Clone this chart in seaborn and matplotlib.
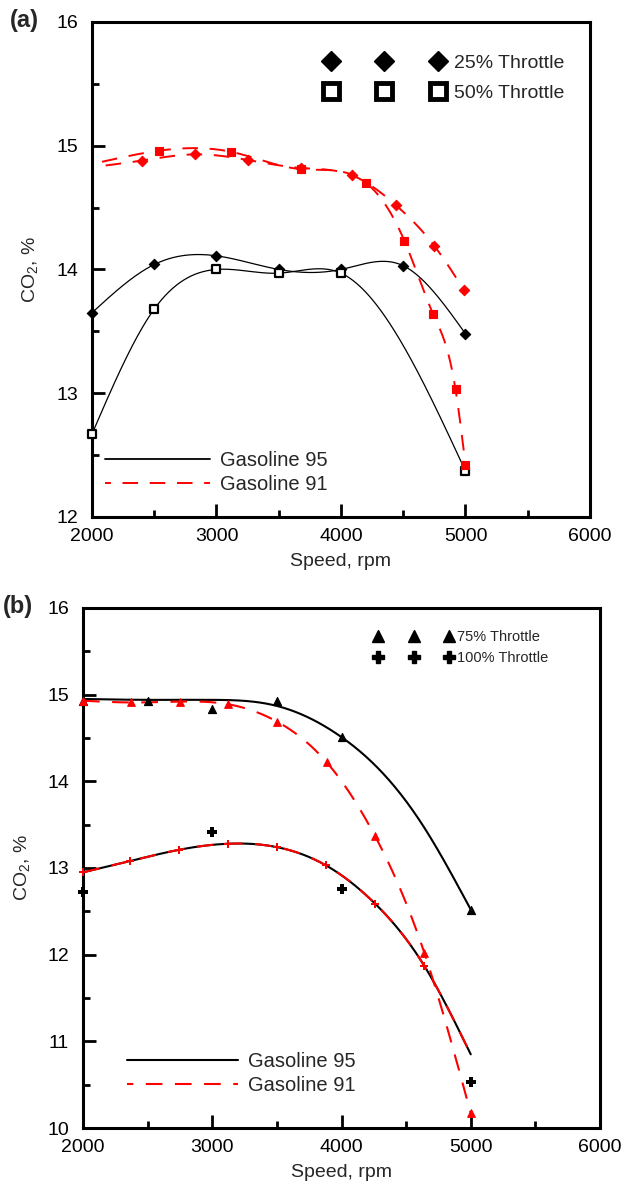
import numpy as np
import matplotlib
matplotlib.use("Agg")
import matplotlib.pyplot as plt
from matplotlib.lines import Line2D
import seaborn as sns

# ---------------- data ----------------
# (a) 25 % and 50 % throttle
speed_a25 = [2000, 2500, 3000, 3500, 4000, 4500, 5000]
g95_25 = [13.65, 14.04, 14.11, 14.00, 14.00, 14.03, 13.48]

speed_a50 = [2000, 2500, 3000, 3500, 4000, 5000]
g95_50 = [12.67, 13.68, 14.00, 13.97, 13.97, 12.37]

# first entry of each Gasoline 91 series is the start of the curve (no marker)
speed_g91_25 = [2110, 2400, 2830, 3250, 3680, 4090, 4440, 4750, 4990]
g91_25 = [14.84, 14.88, 14.93, 14.885, 14.82, 14.76, 14.52, 14.19, 13.83]

speed_g91_50 = [2080, 2540, 3120, 3680, 4200, 4510, 4740, 4920, 5000]
g91_50 = [14.87, 14.96, 14.95, 14.81, 14.70, 14.23, 13.64, 13.03, 12.42]

# (b) 75 % and 100 % throttle
speed_b = [2000, 2500, 3000, 3500, 4000, 5000]
g95_75 = [14.93, 14.93, 14.84, 14.93, 14.51, 12.52]

speed_b100 = [2000, 3000, 4000, 5000]
g95_100 = [12.72, 13.42, 12.76, 10.53]

# fitted Gasoline 95 curves
speed_fit75 = [2000, 2500, 3000, 3500, 4000, 4250, 4630, 5000]
g95_75_fit = [14.95, 14.94, 14.94, 14.87, 14.51, 14.20, 13.49, 12.52]

speed_fit100 = [2000, 2364, 2743, 3124, 3503, 3880, 4259, 4641, 5000]
g95_100_fit = [12.95, 13.08, 13.21, 13.28, 13.24, 13.03, 12.59, 11.87, 10.85]

speed_g91_75 = [2000, 2370, 2750, 3120, 3500, 3885, 4259, 4641, 5000]
g91_75 = [14.93, 14.91, 14.92, 14.89, 14.69, 14.22, 13.37, 12.02, 10.17]

# last entry is the end of the curve (no marker)
speed_g91_100 = [2000, 2364, 2743, 3124, 3503, 3880, 4259, 4641, 5000]
g91_100 = [12.95, 13.08, 13.21, 13.28, 13.24, 13.03, 12.59, 11.87, 10.85]


def smooth(xk, yk, num=400):
    """Natural cubic spline through the given points."""
    x = np.asarray(xk, float) / 1000.0
    y = np.asarray(yk, float)
    n = len(x)
    h = np.diff(x)
    A = np.zeros((n, n))
    b = np.zeros(n)
    A[0, 0] = A[-1, -1] = 1.0
    for i in range(1, n - 1):
        A[i, i - 1] = h[i - 1]
        A[i, i] = 2 * (h[i - 1] + h[i])
        A[i, i + 1] = h[i]
        b[i] = 6 * ((y[i + 1] - y[i]) / h[i] - (y[i] - y[i - 1]) / h[i - 1])
    M = np.linalg.solve(A, b)
    xs = np.linspace(x[0], x[-1], num)
    idx = np.clip(np.searchsorted(x, xs) - 1, 0, n - 2)
    x0, x1 = x[idx], x[idx + 1]
    hh = x1 - x0
    t0, t1 = x1 - xs, xs - x0
    ys = ((M[idx] * t0 ** 3 + M[idx + 1] * t1 ** 3) / (6 * hh)
          + (y[idx] / hh - M[idx] * hh / 6) * t0
          + (y[idx + 1] / hh - M[idx + 1] * hh / 6) * t1)
    return xs * 1000.0, ys


# ---------------- style ----------------
sns.set_theme(style="white")
plt.rcParams["font.family"] = ["Liberation Sans", "DejaVu Sans"]
plt.rcParams["mathtext.default"] = "regular"

RED = "#ff0000"
DASH = (0, (8, 6))

fig = plt.figure(figsize=(6.34, 11.87), dpi=100)
ax_a = fig.add_axes([0.1451, 0.5645, 0.7855, 0.4170])
ax_b = fig.add_axes([0.1309, 0.0497, 0.8155, 0.4381])


def style_axes(ax, ylo, yhi, ylabelpad):
    ax.set_xlim(2000, 6000)
    ax.set_ylim(ylo, yhi)
    ax.set_xticks(np.arange(2000, 6001, 1000))
    ax.set_xticks(np.arange(2500, 6000, 1000), minor=True)
    ax.set_yticks(np.arange(ylo, yhi + 1, 1))
    ax.set_yticks(np.arange(ylo + 0.5, yhi, 1), minor=True)
    ax.tick_params(which="both", direction="in", top=False, right=False,
                   bottom=True, left=True, width=2.0, labelsize=14,
                   colors="black")
    ax.tick_params(which="major", length=9.5)
    ax.tick_params(which="minor", length=5)
    ax.tick_params(axis="x", pad=8)
    ax.tick_params(axis="y", pad=10)
    for s in ax.spines.values():
        s.set_linewidth(2.2)
        s.set_color("black")
    ax.set_xlabel("Speed, rpm", fontsize=14, labelpad=6)
    ax.set_ylabel("CO$_2$, %", fontsize=14, labelpad=ylabelpad)


def curve(ax, xk, yk, color, lw, dashed=False):
    xs, ys = smooth(xk, yk)
    kw = dict(linestyle=DASH) if dashed else {}
    sns.lineplot(x=xs, y=ys, ax=ax, color=color, linewidth=lw, sort=False,
                 estimator=None, zorder=2, **kw)


def points(ax, xk, yk, marker, s, face, edge, lw=0.8):
    sns.scatterplot(x=xk, y=yk, ax=ax, marker=marker, s=s, color=face,
                    edgecolor=edge, linewidth=lw, zorder=4, clip_on=False)


# ---------------- (a) ----------------
style_axes(ax_a, 12, 16, 12)
curve(ax_a, speed_a25, g95_25, "black", 0.9)
curve(ax_a, speed_a50, g95_50, "black", 0.9)
curve(ax_a, speed_g91_25, g91_25, RED, 1.4, dashed=True)
curve(ax_a, speed_g91_50, g91_50, RED, 1.4, dashed=True)
points(ax_a, speed_a25, g95_25, "D", 28, "black", "black")
points(ax_a, speed_a50, g95_50, "s", 30, "white", "black", lw=1.6)
points(ax_a, speed_g91_25[1:], g91_25[1:], "D", 28, RED, RED)
points(ax_a, speed_g91_50[1:], g91_50[1:], "s", 40, RED, RED)

thr_a = [
    Line2D([], [], marker="D", color="black", linestyle="none", markersize=10.5),
    Line2D([], [], marker="s", markerfacecolor="white", markeredgecolor="black",
           markeredgewidth=3.5, linestyle="none", markersize=12),
]
leg1 = ax_a.legend(thr_a, ["25% Throttle", "50% Throttle"], numpoints=3,
                   handlelength=6.1, handletextpad=0.55, labelspacing=0.65,
                   fontsize=14, frameon=False, loc="upper left",
                   bbox_to_anchor=(0.468, 0.935), borderaxespad=0, borderpad=0)
ax_a.add_artist(leg1)
fuel_a = [
    Line2D([], [], color="black", linewidth=1.3),
    Line2D([], [], color=RED, linewidth=1.4, linestyle=(5, (8, 6))),
]
ax_a.legend(fuel_a, ["Gasoline 95", "Gasoline 91"], handlelength=5.2,
            handletextpad=0.5, labelspacing=0.28, fontsize=14.5, frameon=False,
            loc="upper left", bbox_to_anchor=(0.026, 0.134), borderaxespad=0,
            borderpad=0)

# ---------------- (b) ----------------
style_axes(ax_b, 10, 16, 11)
curve(ax_b, speed_fit75, g95_75_fit, "black", 1.5)
curve(ax_b, speed_fit100, g95_100_fit, "black", 1.5)
curve(ax_b, speed_g91_75, g91_75, RED, 1.5, dashed=True)
curve(ax_b, speed_g91_100, g91_100, RED, 1.5, dashed=True)
points(ax_b, speed_b, g95_75, "^", 34, "black", "black")
points(ax_b, speed_b100, g95_100, "P", 55, "black", "black", lw=0)
points(ax_b, speed_g91_75, g91_75, "^", 30, RED, RED)
points(ax_b, speed_g91_100[:-1], g91_100[:-1], "P", 40, RED, RED, lw=0)

thr_b = [
    Line2D([], [], marker="^", color="black", linestyle="none", markersize=8.5),
    Line2D([], [], marker="P", color="black", linestyle="none", markersize=9),
]
leg2 = ax_b.legend(thr_b, ["75% Throttle", "100% Throttle"], numpoints=3,
                   handlelength=5.5, handletextpad=0.2, labelspacing=0.5,
                   fontsize=10.5, frameon=False, loc="upper left",
                   bbox_to_anchor=(0.562, 0.958), borderaxespad=0, borderpad=0)
ax_b.add_artist(leg2)
fuel_b = [
    Line2D([], [], color="black", linewidth=1.5),
    Line2D([], [], color=RED, linewidth=1.5, linestyle=(5, (8, 6))),
]
ax_b.legend(fuel_b, ["Gasoline 95", "Gasoline 91"], handlelength=5.5,
            handletextpad=0.5, labelspacing=0.25, fontsize=14.5, frameon=False,
            loc="upper left", bbox_to_anchor=(0.085, 0.146), borderaxespad=0,
            borderpad=0)

fig.text(0.015, 1 - 21 / 1187, "(a)", fontsize=17, fontweight="bold", va="center")
fig.text(0.005, 1 - 607 / 1187, "(b)", fontsize=17, fontweight="bold", va="center")

fig.savefig("out.png", dpi=100)
